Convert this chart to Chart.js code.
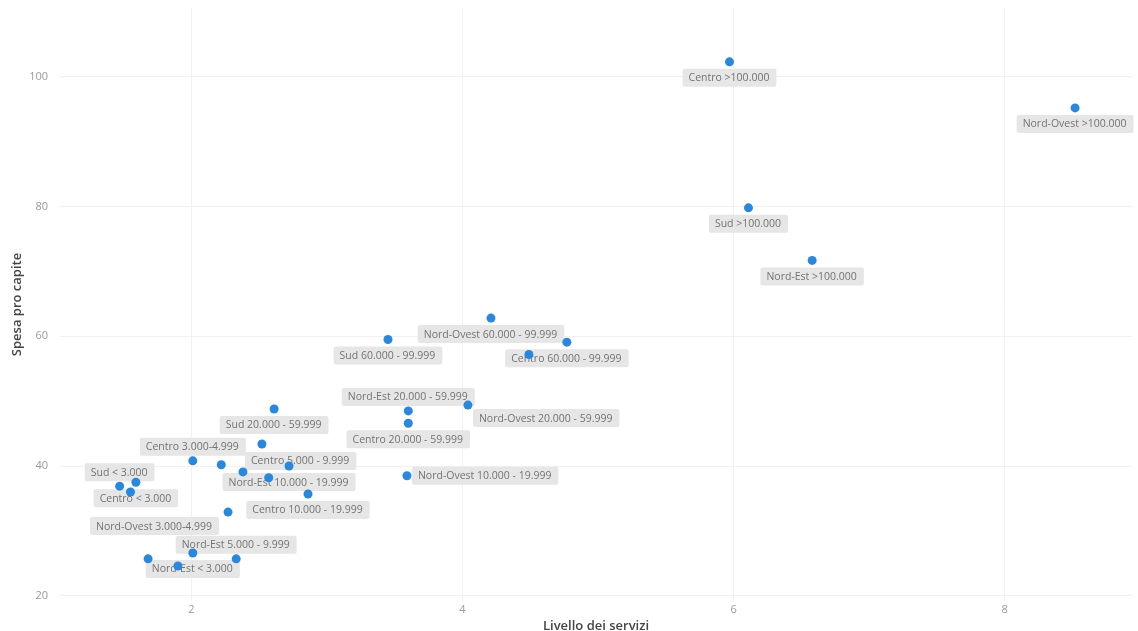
<!DOCTYPE html>
<html><head><meta charset="utf-8">
<script src="https://cdn.jsdelivr.net/npm/chart.js@4"></script>
<style>html,body{margin:0;padding:0;background:#fff}</style>
</head><body>
<canvas id="c" width="1138" height="631"></canvas>
<script>
// ---- data ----
const regions = ["Centro", "Nord-Est", "Nord-Ovest", "Sud"];
const sizeClasses = ["< 3.000", "3.000-4.999", "5.000 - 9.999", "10.000 - 19.999", "20.000 - 59.999", "60.000 - 99.999", ">100.000"];
// Livello dei servizi, by region, in sizeClasses order
const servCentro    = [1.59, 2.01, 2.38, 2.86, 3.60, 4.77, 5.97];
const servNordEst   = [2.01, 1.90, 2.33, 2.72, 3.60, 4.49, 6.58];
const servNordOvest = [1.68, 2.27, 2.52, 3.59, 4.04, 4.21, 8.52];
const servSud       = [1.47, 1.55, 2.22, 2.57, 2.61, 3.45, 6.11];
// Spesa pro capite
const spesaCentro    = [37.5, 40.8, 39.1, 35.7, 46.6, 59.1, 102.3];
const spesaNordEst   = [26.6, 24.6, 25.7, 40.0, 48.5, 57.2, 71.7];
const spesaNordOvest = [25.7, 32.9, 43.4, 38.5, 49.4, 62.8, 95.2];
const spesaSud       = [36.9, 36.0, 40.2, 38.2, 48.8, 59.5, 79.8];
const xTicks = [2, 4, 6, 8];
const yTicks = [20, 40, 60, 80, 100];
const xTitle = "Livello dei servizi";
const yTitle = "Spesa pro capite";

// ---- label placement (style only) ----
const labelPlacement = [
  // Centro
  "below", "above", "aboveRight", "below", "below", "below", "below",
  // Nord-Est
  "below", "none", "above", "below", "above", "none", "below",
  // Nord-Ovest
  "none", "belowLeft", "none", "right", "belowRight", "below", "below",
  // Sud
  "above", "none", "none", "none", "below", "below", "below"
];

const servAll = [servCentro, servNordEst, servNordOvest, servSud];
const spesaAll = [spesaCentro, spesaNordEst, spesaNordOvest, spesaSud];
const points = [];
const pointLabels = [];
regions.forEach((r, ri) => {
  sizeClasses.forEach((s, si) => {
    points.push({ x: servAll[ri][si], y: spesaAll[ri][si] });
    pointLabels.push(r + " " + s);
  });
});

const FONT = "'Open Sans', 'Noto Sans', sans-serif";

const labelPlugin = {
  id: 'pointLabels',
  beforeDatasetsDraw(chart) {
    const ctx = chart.ctx;
    const meta = chart.getDatasetMeta(0);
    ctx.save();
    ctx.font = "10.5px " + FONT;
    ctx.textBaseline = 'middle';
    meta.data.forEach((el, i) => {
      const pl = labelPlacement[i];
      if (pl === 'none') return;
      const txt = pointLabels[i];
      const tw = ctx.measureText(txt).width;
      const w = tw + 13, h = 18;
      let cx = el.x, cy = el.y;
      let left;
      switch (pl) {
        case 'below': cy = el.y + 16; left = cx - w / 2; break;
        case 'above': cy = el.y - 14; left = cx - w / 2; break;
        case 'right': cy = el.y; left = el.x + 5; break;
        case 'belowRight': cy = el.y + 13; left = el.x + 5; break;
        case 'aboveRight': cy = el.y - 11; left = el.x + 2; break;
        case 'belowLeft': cy = el.y + 14; left = el.x - 9 - w; break;
      }
      ctx.fillStyle = 'rgba(229,229,229,0.95)';
      ctx.beginPath();
      if (ctx.roundRect) ctx.roundRect(left, cy - h / 2, w, h, 2); else ctx.rect(left, cy - h / 2, w, h);
      ctx.fill();
      ctx.fillStyle = '#737373';
      ctx.textAlign = 'left';
      ctx.fillText(txt, left + 6, cy + 0.5);
    });
    ctx.restore();
  }
};

new Chart(document.getElementById('c'), {
  type: 'scatter',
  data: {
    datasets: [{
      data: points,
      backgroundColor: '#2a88dc',
      borderColor: '#2a88dc',
      pointRadius: 4.5,
      pointHoverRadius: 4.5,
      borderWidth: 0
    }]
  },
  options: {
    responsive: false,
    animation: false,
    events: [],
    layout: { padding: { top: 8, right: 6, left: 0, bottom: 0 } },
    plugins: { legend: { display: false }, tooltip: { enabled: false } },
    scales: {
      x: {
        type: 'linear',
        min: 1.03, max: 8.94,
        afterBuildTicks(scale) { scale.ticks = xTicks.map(v => ({ value: v })); },
        afterFit(scale) { scale.height = 30; scale.paddingLeft = 0; scale.paddingRight = 0; },
        grid: { color: '#f1f1f1', drawTicks: false, lineWidth: 1 },
        border: { display: false },
        ticks: { color: '#9a9a9a', font: { family: FONT, size: 11 }, padding: 2, callback: v => String(v) },
        title: { display: true, text: xTitle, color: '#454545', font: { family: FONT, size: 13, weight: '600', lineHeight: 1 }, padding: { top: 0, bottom: -2 } }
      },
      y: {
        type: 'linear',
        min: 19.2, max: 110.6,
        afterBuildTicks(scale) { scale.ticks = yTicks.map(v => ({ value: v })); },
        afterFit(scale) { scale.width = 60; scale.paddingTop = 0; scale.paddingBottom = 0; },
        grid: { color: '#f1f1f1', drawTicks: false, lineWidth: 1 },
        border: { display: false },
        ticks: { color: '#9a9a9a', font: { family: FONT, size: 11 }, padding: 12, callback: v => String(v) },
        title: { display: true, text: yTitle, color: '#454545', font: { family: FONT, size: 13, weight: '600', lineHeight: 1.2 }, padding: { top: 9, bottom: 0 } }
      }
    }
  },
  plugins: [labelPlugin]
});
</script>
</body></html>
